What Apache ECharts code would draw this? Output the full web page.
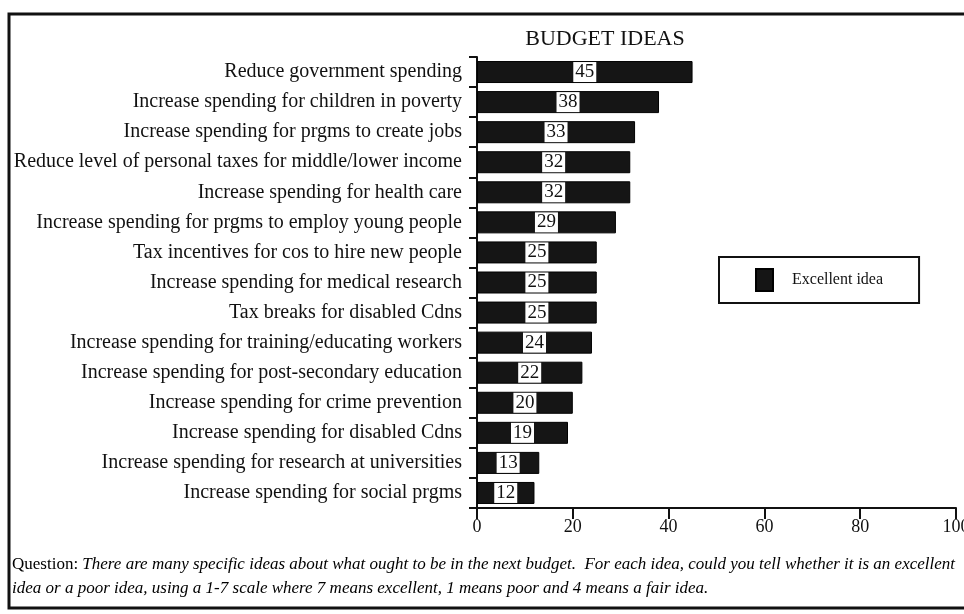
<!DOCTYPE html>
<html><head><meta charset="utf-8">
<script src="https://cdn.jsdelivr.net/npm/echarts@6/dist/echarts.min.js"></script>
<style>html,body{margin:0;padding:0;background:#fff}#c{width:964px;height:614px}</style>
</head><body><div id="c"></div>
<script>
const title = 'BUDGET IDEAS';
const categories = [
  'Reduce government spending',
  'Increase spending for children in poverty',
  'Increase spending for prgms to create jobs',
  'Reduce level of personal taxes for middle/lower income',
  'Increase spending for health care',
  'Increase spending for prgms to employ young people',
  'Tax incentives for cos to hire new people',
  'Increase spending for medical research',
  'Tax breaks for disabled Cdns',
  'Increase spending for training/educating workers',
  'Increase spending for post-secondary education',
  'Increase spending for crime prevention',
  'Increase spending for disabled Cdns',
  'Increase spending for research at universities',
  'Increase spending for social prgms'
];
const excellent = [45, 38, 33, 32, 32, 29, 25, 25, 25, 24, 22, 20, 19, 13, 12];
const seriesName = 'Excellent idea';
const xTicks = [0, 20, 40, 60, 80, 100];
const captionLead = 'Question: ';
const captionLine1 = 'There are many specific ideas about what ought to be in the next budget.  For each idea, could you tell whether it is an excellent';
const captionLine2 = 'idea or a poor idea, using a 1-7 scale where 7 means excellent, 1 means poor and 4 means a fair idea.';

const F = '"Liberation Serif", "DejaVu Serif", serif';
const chart = echarts.init(document.getElementById('c'), null, {renderer: 'canvas'});
chart.setOption({
  animation: false,
  backgroundColor: '#fff',
  title: {
    text: title, left: 600, top: 23, textAlign: 'center',
    textStyle: {fontFamily: F, fontSize: 22, fontWeight: 'normal', color: '#111'}
  },
  legend: {
    left: 719, top: 257, orient: 'horizontal',
    padding: [11, 36, 11, 36],
    borderColor: '#111', borderWidth: 2,
    itemWidth: 17, itemHeight: 22,
    icon: 'rect',
    textStyle: {fontFamily: F, fontSize: 16, color: '#111', padding: [0, 0, 0, 14]},
    data: [seriesName]
  },
  grid: {left: 477, right: 8, top: 57, bottom: 106, containLabel: false, outerBoundsMode: 'none'},
  xAxis: {
    type: 'value', min: xTicks[0], max: xTicks[xTicks.length - 1], interval: 20,
    axisLine: {show: true, lineStyle: {color: '#111', width: 2}},
    axisTick: {show: true, length: 11, lineStyle: {color: '#111', width: 2}},
    axisLabel: {fontFamily: F, fontSize: 18, color: '#111', margin: 10, showMaxLabel: true},
    splitLine: {show: false}
  },
  yAxis: {
    type: 'category', inverse: true, data: categories,
    axisLine: {show: true, lineStyle: {color: '#111', width: 2}},
    axisTick: {show: true, length: 8, lineStyle: {color: '#111', width: 2}},
    axisLabel: {fontFamily: F, fontSize: 20, color: '#111', margin: 15}
  },
  series: [{
    name: seriesName, type: 'bar', data: excellent, barWidth: 22,
    itemStyle: {color: '#151515', borderColor: '#000', borderWidth: 1},
    label: {
      show: true, position: 'inside', fontFamily: F, fontSize: 19, color: '#111',
      backgroundColor: '#fff', padding: [1, 2, 0, 2]
    }
  }],
  graphic: [
    {type: 'rect', shape: {x: 9, y: 14, width: 990, height: 594},
     style: {fill: null, stroke: '#111', lineWidth: 3}},
    {type: 'text', left: 12, top: 556,
     style: {
       text: '{a|' + captionLead + '}{b|' + captionLine1 + '}\n{b|' + captionLine2 + '}',
       rich: {
         a: {fontFamily: F, fontSize: 17, color: '#111', lineHeight: 24},
         b: {fontFamily: F, fontSize: 17, fontStyle: 'italic', color: '#111', lineHeight: 24}
       }
     }}
  ]
});
</script></body></html>
